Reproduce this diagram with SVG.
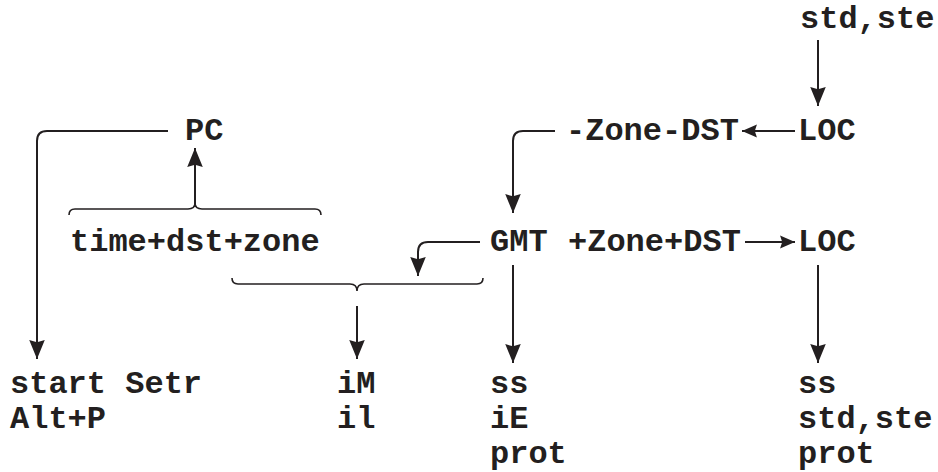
<svg xmlns="http://www.w3.org/2000/svg" width="938" height="472" viewBox="0 0 938 472">
  <style>
    .t { font-family: "Liberation Mono", "Courier New", monospace; font-weight: bold; font-size: 32px; fill: #231f20; }
    .ln { fill: none; stroke: #231f20; stroke-width: 2; }
    .br { fill: none; stroke: #231f20; stroke-width: 1.6; }
  </style>
  <defs>
    <marker id="arrow" markerUnits="userSpaceOnUse" markerWidth="20" markerHeight="16" refX="17" refY="7" orient="auto" viewBox="0 0 18 14">
      <path d="M0,0 L17,7 L0,14 L2,7 z" fill="#231f20"/>
    </marker>
    <marker id="arrow-sm" markerUnits="userSpaceOnUse" markerWidth="16" markerHeight="14" refX="14" refY="6" orient="auto" viewBox="0 0 15 12">
      <path d="M0,0 L14,6 L0,12 L2,6 z" fill="#231f20"/>
    </marker>
  </defs>

  <!-- connectors -->
  <g id="connectors">
    <!-- std,ste down to LOC -->
    <path class="ln" d="M818,40 V106" marker-end="url(#arrow)"/>
    <!-- LOC to -Zone-DST -->
    <path class="ln" d="M795,131 H742" marker-end="url(#arrow-sm)"/>
    <!-- -Zone-DST to GMT -->
    <path class="ln" d="M555,131 H523 Q513,131 513,141 V213" marker-end="url(#arrow)"/>
    <!-- +Zone+DST to LOC -->
    <path class="ln" d="M745,242 H795" marker-end="url(#arrow-sm)"/>
    <!-- GMT to brace -->
    <path class="ln" d="M480,242 H428 Q418,242 418,252 V276" marker-end="url(#arrow)"/>
    <!-- PC down to start Setr -->
    <path class="ln" d="M168,131 H47 Q37,131 37,141 V359" marker-end="url(#arrow)"/>
    <!-- brace up to PC -->
    <path class="ln" d="M195,205 V148" marker-end="url(#arrow)"/>
    <!-- brace down to iM -->
    <path class="ln" d="M357,306 V359" marker-end="url(#arrow)"/>
    <!-- GMT down -->
    <path class="ln" d="M513,265 V363" marker-end="url(#arrow)"/>
    <!-- LOC down -->
    <path class="ln" d="M818,265 V363" marker-end="url(#arrow)"/>
    <!-- braces -->
    <path class="br" d="M69,215 Q69,209 75,209 L188,209 Q195,209 195,203 Q195,209 202,209 L315,209 Q321,209 321,215"/>
    <path class="br" d="M232,278 Q232,284 238,284 L350,284 Q357,284 357,291 Q357,284 364,284 L477,284 Q483,284 483,278"/>
  </g>

  <!-- nodes -->
  <g id="n-std-top"><text class="t" x="800" y="28">std,ste</text></g>
  <g id="n-loc-top"><text class="t" x="798" y="140">LOC</text></g>
  <g id="n-minus-zone"><text class="t" x="566" y="140">-Zone-DST</text></g>
  <g id="n-pc"><text class="t" x="185" y="140">PC</text></g>
  <g id="n-time"><text class="t" x="70" y="251">time+dst+zone</text></g>
  <g id="n-gmt"><text class="t" x="490" y="251">GMT</text></g>
  <g id="n-plus-zone"><text class="t" x="568" y="251">+Zone+DST</text></g>
  <g id="n-loc-mid"><text class="t" x="798" y="251">LOC</text></g>
  <g id="n-start">
    <text class="t" x="10" y="393">start Setr</text>
    <text class="t" x="10" y="428">Alt+P</text>
  </g>
  <g id="n-im">
    <text class="t" x="337" y="393">iM</text>
    <text class="t" x="337" y="428">il</text>
  </g>
  <g id="n-ss-mid">
    <text class="t" x="490" y="393">ss</text>
    <text class="t" x="490" y="428">iE</text>
    <text class="t" x="490" y="463">prot</text>
  </g>
  <g id="n-ss-right">
    <text class="t" x="798" y="393">ss</text>
    <text class="t" x="798" y="428">std,ste</text>
    <text class="t" x="798" y="463">prot</text>
  </g>
</svg>
